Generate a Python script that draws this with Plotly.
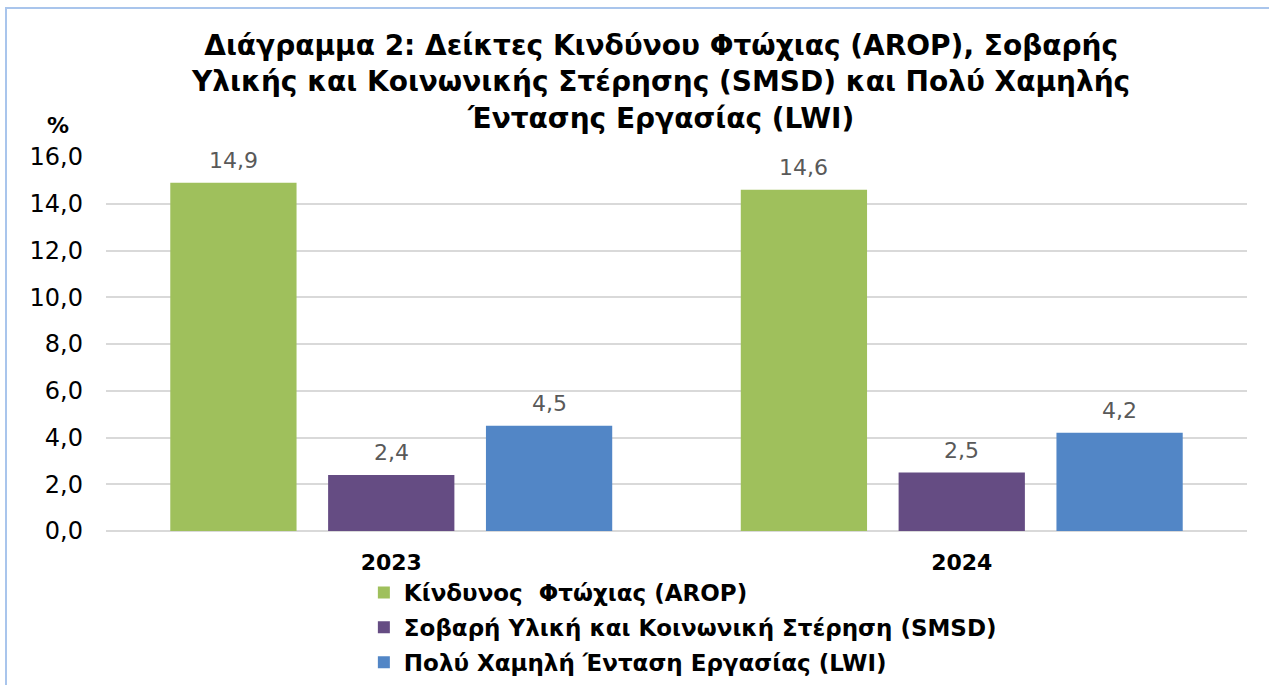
import plotly.graph_objects as go

years = ["2023", "2024"]
series_names = [
    "Κίνδυνος  Φτώχιας (AROP)",
    "Σοβαρή Υλική και Κοινωνική Στέρηση (SMSD)",
    "Πολύ Χαμηλή Ένταση Εργασίας (LWI)",
]
arop = [14.9, 14.6]
smsd = [2.4, 2.5]
lwi = [4.5, 4.2]
colors = ["#9FC05C", "#654C83", "#5286C6"]
tick_vals = [0, 2, 4, 6, 8, 10, 12, 14, 16]

FONT = "DejaVu Sans, Verdana, sans-serif"
BARGAP = 0.17
BARGROUPGAP = 0.2

fig = go.Figure()
all_series = [arop, smsd, lwi]
for i, (name, vals) in enumerate(zip(series_names, all_series)):
    fig.add_trace(go.Bar(
        x=years, y=vals, name=f"<b>{name}</b>",
        marker=dict(color=colors[i], line=dict(width=0)),
        legendgroup=f"g{i}", hoverinfo="skip",
    ))

# value labels above bars, positioned through the category axis
n = len(all_series)
slot = (1 - BARGAP) / n
for i, vals in enumerate(all_series):
    for j, v in enumerate(vals):
        fig.add_annotation(
            x=j + (i - (n - 1) / 2) * slot, y=v, xref="x", yref="y",
            text=f"{v:.1f}".replace(".", ","), showarrow=False,
            yanchor="bottom", xanchor="center", yshift=8,
            font=dict(family=FONT, size=22, color="#595959"),
        )

fig.update_layout(
    width=1269, height=685,
    separators=",.",
    barmode="group", bargap=BARGAP, bargroupgap=BARGROUPGAP,
    paper_bgcolor="white", plot_bgcolor="white",
    margin=dict(l=106, r=22, t=157, b=154, autoexpand=False),
    title=dict(
        text="<b>Διάγραμμα 2: Δείκτες Κινδύνου Φτώχιας (AROP), Σοβαρής<br>Υλικής και Κοινωνικής Στέρησης (SMSD) και Πολύ Χαμηλής<br>Έντασης Εργασίας (LWI)</b>",
        x=0.521, xanchor="center", y=0.92, yanchor="top",
        font=dict(family=FONT, size=28, color="black"),
    ),
    font=dict(family=FONT, color="black"),
    xaxis=dict(
        tickfont=dict(family=FONT, size=22, color="black"),
        tickprefix="<b>", ticksuffix="</b>",
        showline=False, ticks="", automargin=False, ticklabelstandoff=16,
    ),
    yaxis=dict(
        range=[0, 16], tickvals=tick_vals, tickformat=".1f",
        tickfont=dict(family=FONT, size=24, color="black"),
        showgrid=True, gridcolor="#D9D9D9", gridwidth=2,
        zeroline=True, zerolinecolor="#D9D9D9", zerolinewidth=2,
        showline=False, ticks="", ticklen=0, automargin=False,
        ticklabelstandoff=22,
    ),
    legend=dict(
        x=0.226, y=-0.107, xanchor="left", yanchor="top",
        orientation="v", font=dict(family=FONT, size=23, color="black"),
        tracegroupgap=2, itemwidth=30,
    ),
    showlegend=True,
)

fig.add_annotation(text="<b>%</b>", xref="paper", yref="paper",
                   x=(58 - 106) / 1141, y=(531 - 125) / 374,
                   xanchor="center", yanchor="middle",
                   showarrow=False, font=dict(family=FONT, size=22, color="black"))

fig.add_shape(type="rect", xref="paper", yref="paper",
              x0=(6 - 106) / 1141, x1=(1290 - 106) / 1141,
              y0=(531 - 720) / 374, y1=(531 - 8) / 374,
              line=dict(color="#A9C5EC", width=2), fillcolor="rgba(0,0,0,0)", layer="below")

fig.write_html("out.html", config={"displayModeBar": False},
               post_script="document.body.style.margin='0';")
